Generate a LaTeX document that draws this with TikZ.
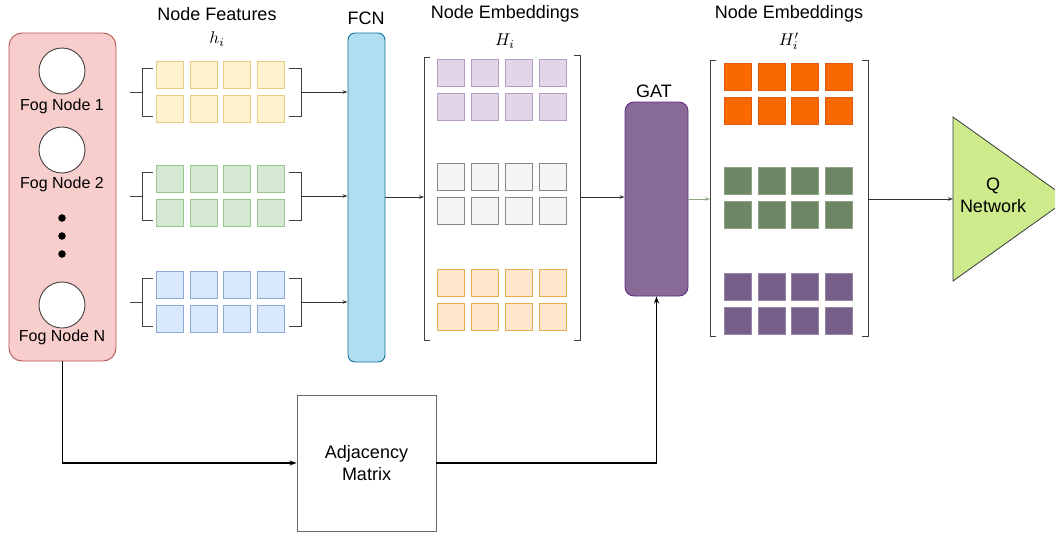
\documentclass[tikz,border=0pt]{standalone}
\usepackage{fontspec}
\setmainfont{Liberation Sans}
\usetikzlibrary{arrows.meta,positioning}
\definecolor{fogfill}{HTML}{F8CECC}\definecolor{fogline}{HTML}{B85450}
\definecolor{fcnfill}{HTML}{B1DDF0}\definecolor{fcnline}{HTML}{10739E}
\definecolor{gatfill}{HTML}{876A96}\definecolor{gatline}{HTML}{5F2C82}
\definecolor{qfill}{HTML}{CDEB8B}\definecolor{qline}{HTML}{36393D}
\definecolor{yelf}{HTML}{FFF2CC}\definecolor{yeld}{HTML}{E6CC80}
\definecolor{grnf}{HTML}{D5E8D4}\definecolor{grnd}{HTML}{9CC58E}
\definecolor{bluf}{HTML}{DAE8FC}\definecolor{blud}{HTML}{8DA8D4}
\definecolor{lilf}{HTML}{E1D5E7}\definecolor{lild}{HTML}{B49CC2}
\definecolor{gryf}{HTML}{F5F5F5}\definecolor{gryd}{HTML}{888888}
\definecolor{pchf}{HTML}{FFE6CC}\definecolor{pchd}{HTML}{E3AD4F}
\definecolor{orgf}{HTML}{FA6800}\definecolor{orgd}{HTML}{E05A10}
\definecolor{dgrf}{HTML}{6D8764}\definecolor{dgrd}{HTML}{8FA387}
\definecolor{dpuf}{HTML}{76608A}\definecolor{dpud}{HTML}{9585A3}
\newcommand{\mlab}[1]{\scalebox{1.7}{$#1$}}
\tikzset{
  cell/.style 2 args={draw=#1,fill=#2,line width=0.9pt,minimum size=27pt,inner sep=0pt},
  brack/.style={draw=black!75,line width=0.9pt},
  conn/.style={draw=black!80,line width=0.8pt,-{Stealth[length=5pt,width=3.5pt]}},
  mainconn/.style={draw=black,line width=1.4pt,-{Stealth[length=7pt,width=5pt]}},
  head/.style={font=\fontsize{18}{20}\selectfont},
  lbl/.style={font=\fontsize{16}{18}\selectfont},
  biglbl/.style={font=\fontsize{18}{22}\selectfont},
}
\begin{document}
\begin{tikzpicture}[x=1pt,y=-1pt]
\useasboundingbox (0,0) rectangle (1055,533);
\clip (0,0) rectangle (1055,533);
% fog nodes
\node[draw=fogline,fill=fogfill,rounded corners=13pt,line width=0.9pt,minimum width=107pt,minimum height=328pt] (fog) at (62.5,197) {};
\node[draw=black!75,fill=white,circle,minimum size=46pt,line width=0.9pt] (f1) at (62,71) {};
\node[draw=black!75,fill=white,circle,minimum size=46pt,line width=0.9pt] (f2) at (62,150) {};
\node[draw=black!75,fill=white,circle,minimum size=46pt,line width=0.9pt] (fn) at (62,305) {};
\node[lbl] (t1) at (62,106) {Fog Node 1};
\node[lbl] (t2) at (62,184) {Fog Node 2};
\node[lbl] (tn) at (62,337) {Fog Node N};
\foreach \y in {218,236,254}
  \filldraw (62,\y) circle (3.5pt);
% node features
\node[head] (nf) at (217,14) {Node Features};
\node (hi) at (217,39) {\mlab{h_i}};
\foreach \y/\f/\d/\n in {75/yelf/yeld/a,179/grnf/grnd/b,285/bluf/blud/c}{
  \foreach \i in {0,...,3}
    \foreach \r in {0,1}
      \node[cell={\d}{\f}] at (170+33.7*\i,\y+34*\r) {};
  \draw[brack] (153,\y-7)--(142,\y-7)--(142,\y+41)--(153,\y+41);
  \draw[brack] (130,\y+17)--(142,\y+17);
  \draw[brack] (289,\y-7)--(301,\y-7)--(301,\y+41)--(289,\y+41);
  \coordinate (br\n) at (301,\y+17);
}
% FCN
\node[head] (fcnt) at (366,18) {FCN};
\node[draw=fcnline,fill=fcnfill,rounded corners=7pt,line width=0.9pt,minimum width=37pt,minimum height=329pt] (fcn) at (366.5,197.5) {};
\foreach \n in {a,b,c}
  \draw[conn] (br\n) -- (br\n -| fcn.west);
% node embeddings H_i
\node[head] (ne1) at (505,14) {Node Embeddings};
\node (Hi) at (505,41) {\mlab{H_i}};
\foreach \y/\f/\d in {73/lilf/lild,177/gryf/gryd,283/pchf/pchd}
  \foreach \i in {0,...,3}
    \foreach \r in {0,1}
      \node[cell={\d}{\f}] at (451+34*\i,\y+34*\r) {};
\draw[brack] (430,57)--(424,57)--(424,340)--(430,340);
\draw[brack] (574,55)--(580,55)--(580,340)--(574,340);
\coordinate (hL) at (424,197);
\coordinate (hR) at (580,197);
\draw[conn] (fcn.east |- hL) -- (hL);
% GAT
\node[head] (gatt) at (654,91) {GAT};
\node[draw=gatline,fill=gatfill,rounded corners=9pt,line width=0.9pt,minimum width=63pt,minimum height=194pt] (gat) at (656.5,199) {};
\draw[conn] (hR) -- (hR -| gat.west);
% node embeddings H_i'
\node[head] (ne2) at (789,14) {Node Embeddings};
\node (Hp) at (789,41) {\mlab{H_i'}};
\foreach \y/\f/\d in {77/orgf/orgd,181/dgrf/dgrd,287/dpuf/dpud}
  \foreach \i in {0,...,3}
    \foreach \r in {0,1}
      \node[cell={\d}{\f}] at (738+33.7*\i,\y+34*\r) {};
\draw[brack] (716,60)--(710,60)--(710,336)--(716,336);
\draw[brack] (862,60)--(868,60)--(868,336)--(862,336);
\coordinate (pL) at (710,199);
\coordinate (pR) at (868,199);
\draw[conn,draw=dgrd] (gat.east |- pL) -- (pL);
% Q network
\coordinate (qin) at (953,199);
\filldraw[draw=qline,fill=qfill,line width=0.8pt] (953,117) -- (1068,199) -- (953,281) -- cycle;
\node[biglbl,align=center] (qt) at (993,195) {Q\\Network};
\draw[conn] (pR) -- (qin);
% adjacency matrix
\node[draw=black!60,line width=0.9pt,minimum width=139pt,minimum height=136pt,biglbl,align=center] (adj) at (366.5,463) {Adjacency\\Matrix};
\draw[mainconn] (fog.south) |- (adj.west);
\draw[mainconn] (adj.east) -| (gat.south);
\end{tikzpicture}
\end{document}
